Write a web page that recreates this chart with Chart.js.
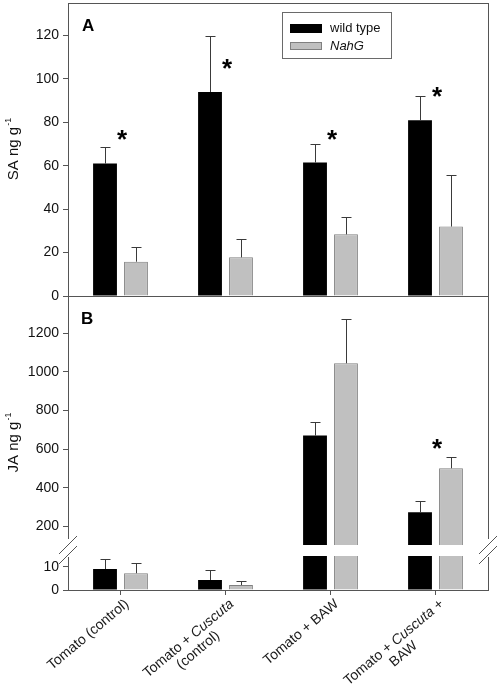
<!DOCTYPE html>
<html>
<head>
<meta charset="utf-8">
<script src="https://cdn.jsdelivr.net/npm/chart.js@4.4.0/dist/chart.umd.min.js"></script>
<style>
  html, body { margin: 0; padding: 0; background: #fff; }
  canvas { display: block; }
</style>
</head>
<body>
<canvas id="chart" width="498" height="690"></canvas>
<script>
// categories: "\n" splits lines, text between "_" is italic
const categories = [
  "Tomato (control)",
  "Tomato + _Cuscuta_\n(control)",
  "Tomato + BAW",
  "Tomato + _Cuscuta_ +\nBAW",
];
const seriesNames = ["wild type", "NahG"];

// panel A: SA (ng g-1), mean and error
const saWild = [61, 94, 61.5, 81];
const saWildErr = [7.6, 26, 8.4, 11];
const saNahG = [15.8, 17.8, 28.4, 32];
const saNahGErr = [6.9, 8.4, 8.1, 23.6];

// panel B: JA (ng g-1), mean and error
const jaWild = [9.0, 4.3, 671, 274];
const jaWildErr = [4.2, 4.3, 72, 60];
const jaNahG = [7.2, 2.1, 1045, 502];
const jaNahGErr = [4.2, 1.9, 228, 57];

// where the significance asterisks sit (axis value), null = none
const saStars = [74, 107, 74, 94];
const jaStars = [null, null, null, 628];

const saTicks = [0, 20, 40, 60, 80, 100, 120];
const jaTicksHigh = [200, 400, 600, 800, 1000, 1200];
const jaTicksLow = [0, 10];

const FONT = "'Liberation Sans', Arial, Helvetica, sans-serif";
Chart.defaults.font.family = FONT;

const BLACK = "#000000";
const GREY = "#c0c0c0";
const GREY_EDGE = "#808080";
const LINE = "#555555";

function bars(name, data, err, axis, fill, edge, clip) {
  return {
    label: name,
    data: data,
    err: err,
    yAxisID: axis,
    stack: name,
    backgroundColor: fill,
    borderColor: edge || fill,
    borderWidth: edge ? 1 : 0,
    barPercentage: 0.77,
    categoryPercentage: 0.59,
    clip: clip || { left: 0, top: 0, right: 0, bottom: 0 },
  };
}

function yScale(weight, stackWeight, min, max, ticks) {
  return {
    type: "linear",
    position: "left",
    stack: "panels",
    stackWeight: stackWeight,
    weight: weight,
    min: min,
    max: max,
    afterBuildTicks: (s) => {
      s.ticks = ticks.map((v) => ({ value: v }));
    },
    afterFit: (s) => {
      s.width = 68;
      s.paddingTop = 0;
      s.paddingBottom = 0;
    },
    border: { display: false },
    grid: { drawOnChartArea: false, drawTicks: true, tickLength: 5, tickColor: LINE },
    ticks: {
      autoSkip: false,
      padding: 4,
      color: "#111",
      font: { size: 14 },
      callback: (v) => String(v),
    },
  };
}

const lowClip = { left: 0, top: -11, right: 0, bottom: 0 };

const decor = {
  id: "decor",
  afterDatasetsDraw(chart) {
    // error bars (upper half only)
    const ctx = chart.ctx;
    ctx.save();
    ctx.strokeStyle = "#3a3a3a";
    ctx.lineWidth = 1;
    chart.data.datasets.forEach((ds, di) => {
      const meta = chart.getDatasetMeta(di);
      const ys = chart.scales[ds.yAxisID];
      ds.data.forEach((v, i) => {
        const top = v + ds.err[i];
        if (v < ys.min || top > ys.max) return;
        const x = Math.round(meta.data[i].x) + 0.5;
        const y0 = ys.getPixelForValue(v);
        const y1 = Math.round(ys.getPixelForValue(top)) + 0.5;
        ctx.beginPath();
        ctx.moveTo(x, y0);
        ctx.lineTo(x, y1);
        ctx.moveTo(x - 5, y1);
        ctx.lineTo(x + 5, y1);
        ctx.stroke();
      });
    });
    ctx.restore();
  },
  afterDraw(chart) {
    const ctx = chart.ctx;
    const { left: L, right: R, top: T, bottom: B } = chart.chartArea;
    const x = chart.scales.x;
    const yA = chart.scales.yA;
    const yBu = chart.scales.yBu;
    const yBl = chart.scales.yBl;
    const brk = yBl.top;
    ctx.save();

    // frame
    ctx.strokeStyle = LINE;
    ctx.lineWidth = 1;
    ctx.beginPath();
    ctx.moveTo(L, T + 0.5);
    ctx.lineTo(R + 0.5, T + 0.5);
    ctx.moveTo(L, yA.bottom + 0.5);
    ctx.lineTo(R + 0.5, yA.bottom + 0.5);
    [L + 0.5, R + 0.5].forEach((px) => {
      ctx.moveTo(px, T);
      ctx.lineTo(px, brk - 6);
      ctx.moveTo(px, brk + 12);
      ctx.lineTo(px, B);
    });
    ctx.stroke();

    // axis break marks
    [L, R].forEach((px) => {
      [0, 10].forEach((dy) => {
        ctx.beginPath();
        ctx.moveTo(px - 9, brk + dy + 9);
        ctx.lineTo(px + 9, brk + dy - 9);
        ctx.stroke();
      });
    });

    // panel letters
    ctx.fillStyle = "#000";
    ctx.font = "bold 17px " + FONT;
    ctx.textAlign = "left";
    ctx.textBaseline = "alphabetic";
    ctx.fillText("A", L + 14, T + 28);
    ctx.fillText("B", L + 13, yA.bottom + 28);

    // y axis titles with superscript
    const yTitle = (main, cy) => {
      ctx.save();
      ctx.font = "15px " + FONT;
      const w1 = ctx.measureText(main).width;
      ctx.font = "9px " + FONT;
      const w2 = ctx.measureText("-1").width;
      ctx.translate(18, cy + (w1 + w2) / 2);
      ctx.rotate(-Math.PI / 2);
      ctx.fillStyle = "#111";
      ctx.font = "15px " + FONT;
      ctx.fillText(main, 0, 0);
      ctx.font = "9px " + FONT;
      ctx.fillText("-1", w1 + 1, -7);
      ctx.restore();
    };
    yTitle("SA ng g", (yA.top + yA.bottom) / 2);
    yTitle("JA ng g", (yBu.top + yBl.bottom) / 2);

    // asterisks
    ctx.font = "bold 26px " + FONT;
    ctx.textAlign = "center";
    const m = ctx.measureText("*");
    const shift = (m.actualBoundingBoxAscent - m.actualBoundingBoxDescent) / 2;
    const star = (vals, scale) => {
      vals.forEach((v, i) => {
        if (v == null) return;
        ctx.fillText("*", x.getPixelForValue(i) + 1.5, scale.getPixelForValue(v) + shift);
      });
    };
    star(saStars, yA);
    star(jaStars, yBu);

    // legend
    ctx.strokeStyle = "#6a6a6a";
    ctx.strokeRect(282.5, 12.5, 109, 46);
    ctx.fillStyle = BLACK;
    ctx.fillRect(290, 24, 32, 9);
    ctx.fillStyle = GREY;
    ctx.fillRect(290, 42, 32, 8);
    ctx.strokeStyle = GREY_EDGE;
    ctx.strokeRect(290.5, 42.5, 31, 7);
    ctx.fillStyle = "#111";
    ctx.textAlign = "left";
    ctx.textBaseline = "middle";
    ctx.font = "13px " + FONT;
    ctx.fillText(seriesNames[0], 330, 28.5);
    ctx.font = "italic 13px " + FONT;
    ctx.fillText(seriesNames[1], 330, 46.5);

    // rotated category labels, italic parts between "_"
    ctx.fillStyle = "#1a1a1a";
    ctx.textBaseline = "top";
    const fontFor = (it) => (it ? "italic " : "") + "14px " + FONT;
    const lineWidth = (segs) =>
      segs.reduce((w, s, k) => {
        ctx.font = fontFor(k % 2 === 1);
        return w + ctx.measureText(s).width;
      }, 0);
    categories.forEach((label, i) => {
      const lines = label.split("\n").map((l) => l.split("_"));
      const widths = lines.map(lineWidth);
      const maxW = Math.max(...widths);
      ctx.save();
      ctx.translate(x.getPixelForValue(i) + 2, B + 7);
      ctx.rotate((-40 * Math.PI) / 180);
      lines.forEach((segs, j) => {
        let px = -maxW / 2 - widths[j] / 2;
        segs.forEach((s, k) => {
          ctx.font = fontFor(k % 2 === 1);
          ctx.fillText(s, px, j * 15);
          px += ctx.measureText(s).width;
        });
      });
      ctx.restore();
    });

    ctx.restore();
  },
};

new Chart(document.getElementById("chart"), {
  type: "bar",
  data: {
    labels: categories,
    datasets: [
      bars(seriesNames[0], saWild, saWildErr, "yA", BLACK),
      bars(seriesNames[1], saNahG, saNahGErr, "yA", GREY, GREY_EDGE),
      bars(seriesNames[0], jaWild, jaWildErr, "yBu", BLACK),
      bars(seriesNames[1], jaNahG, jaNahGErr, "yBu", GREY, GREY_EDGE),
      bars(seriesNames[0], jaWild, jaWildErr, "yBl", BLACK, null, lowClip),
      bars(seriesNames[1], jaNahG, jaNahGErr, "yBl", GREY, GREY_EDGE, lowClip),
    ],
  },
  options: {
    responsive: false,
    animation: false,
    layout: { padding: { top: 3, right: 10, bottom: 0, left: 0 } },
    plugins: { legend: { display: false }, tooltip: { enabled: false } },
    scales: {
      x: {
        type: "category",
        offset: true,
        afterFit: (s) => {
          s.height = 100;
        },
        border: { display: true, color: LINE },
        grid: { offset: false, drawOnChartArea: false, drawTicks: true, tickLength: 5, tickColor: LINE },
        ticks: { display: false },
      },
      yA: yScale(3, 293, 0, 135, saTicks),
      yBu: yScale(2, 249, 105, 1393, jaTicksHigh),
      yBl: yScale(1, 45, 0, 19.3, jaTicksLow),
    },
  },
  plugins: [decor],
});
</script>
</body>
</html>
